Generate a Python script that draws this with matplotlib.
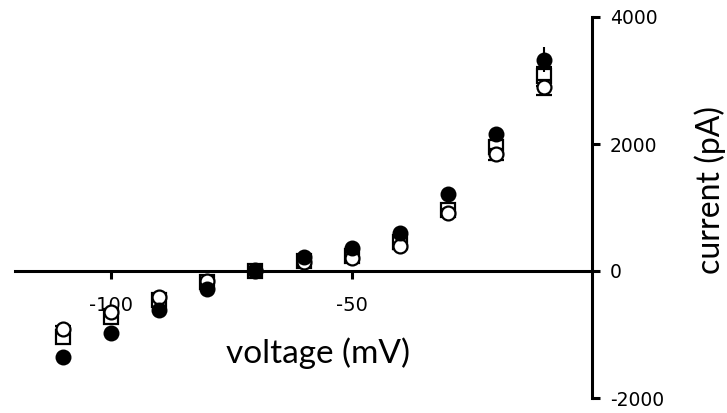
import matplotlib
matplotlib.use("Agg")
import matplotlib.pyplot as plt

voltage = [-110, -100, -90, -80, -70, -60, -50, -40, -30, -20, -10]

filled_circle = [-1362, -984, -622, -276, 10, 213, 370, 606, 1205, 2165, 3330]
filled_err = [60, 50, 40, 30, 10, 20, 30, 40, 60, 80, 190]

open_circle = [-920, -638, -402, -165, 5, 134, 200, 386, 920, 1835, 2890]
open_circle_err = [50, 40, 30, 20, 10, 20, 30, 40, 60, 80, 120]

open_square = [-1047, -732, -449, -181, 0, 165, 240, 449, 953, 1945, 3063]
open_square_err = [50, 40, 30, 20, 10, 20, 30, 40, 60, 80, 150]

xticks = [-100, -50]
yticks = [-2000, 0, 2000, 4000]

fig = plt.figure(figsize=(7.27, 4.13), dpi=100)
ax = fig.add_axes([15/727, 15/413, 577/727, 381/413])

ebkw = dict(ecolor="black", elinewidth=1.5, capsize=5.5, capthick=1.5, linestyle="none")
ax.errorbar(voltage, open_square, yerr=open_square_err, marker="s", markersize=9.5,
            markerfacecolor="white", markeredgecolor="black", markeredgewidth=1.6,
            zorder=3, clip_on=False, **ebkw)
ax.errorbar(voltage, open_circle, yerr=open_circle_err, marker="o", markersize=10,
            markerfacecolor="white", markeredgecolor="black", markeredgewidth=1.6,
            zorder=4, clip_on=False, **ebkw)
ax.errorbar(voltage, filled_circle, yerr=filled_err, marker="o", markersize=11.5,
            markerfacecolor="black", markeredgecolor="black", markeredgewidth=0,
            zorder=5, clip_on=False, **ebkw)

ax.set_xlim(-120, 0)
ax.set_ylim(-2000, 4000)

for s in ["top", "left"]:
    ax.spines[s].set_visible(False)
ax.spines["bottom"].set_position(("data", 0))
ax.spines["bottom"].set_linewidth(2.2)
ax.spines["right"].set_linewidth(2.2)
ax.spines["bottom"].set_zorder(2)
ax.spines["right"].set_zorder(2)

ax.yaxis.tick_right()
ax.yaxis.set_label_position("right")
ax.set_xticks(xticks)
ax.set_yticks(yticks)
ax.set_xticklabels([str(v) for v in xticks])
ax.set_yticklabels([str(v) for v in yticks])
ax.tick_params(axis="x", direction="out", length=6, width=2.2, pad=12, labelsize=14)
ax.tick_params(axis="y", direction="out", length=6, width=2.2, pad=7, labelsize=13.5)
for lab in ax.get_xticklabels() + ax.get_yticklabels():
    lab.set_fontfamily("DejaVu Sans")

ax.set_xlabel("voltage (mV)", fontsize=24, family="Lato")
ax.xaxis.set_label_coords(0.525, 0.118)
ax.xaxis.label.set_va("center")
ax.set_ylabel("current (pA)", fontsize=23, family="Lato", rotation=90)
ax.yaxis.set_label_coords(1.2045, 0.546)
ax.yaxis.label.set_va("center")
ax.yaxis.label.set_ha("center")

fig.savefig("out.png", dpi=100)
